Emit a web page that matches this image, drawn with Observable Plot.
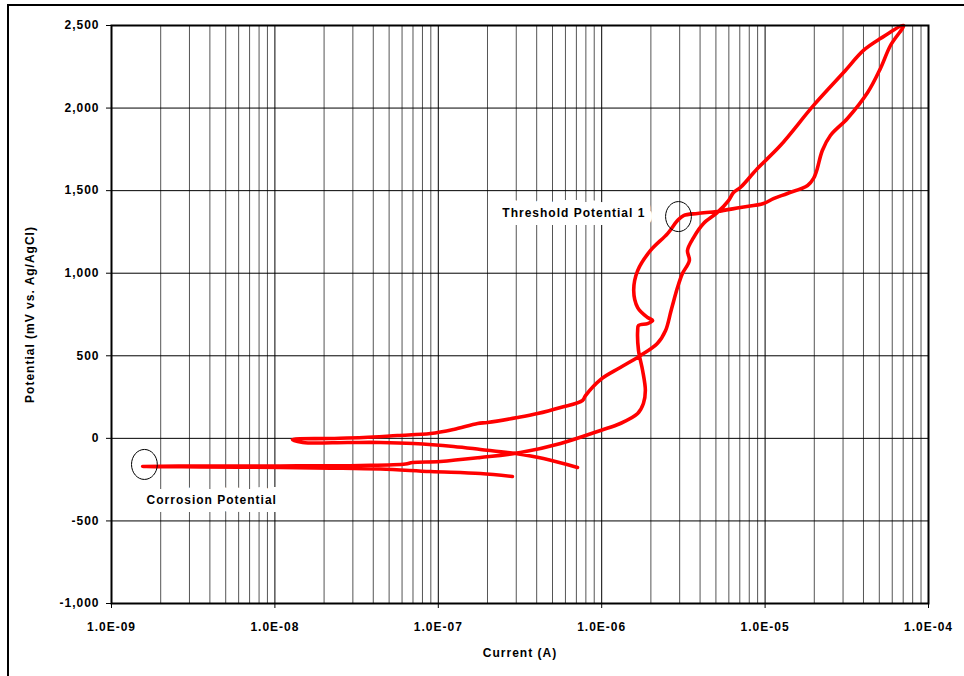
<!DOCTYPE html>
<html>
<head>
<meta charset="utf-8">
<script src="https://cdn.jsdelivr.net/npm/d3@7"></script>
<script src="https://cdn.jsdelivr.net/npm/@observablehq/plot@0.6"></script>
<style>
  html, body { margin: 0; padding: 0; background: #fff; overflow: hidden; }
  #wrap { position: relative; width: 964px; height: 676px; }
  #border { position: absolute; left: 7px; top: 4px; width: 2000px; height: 2000px;
            border-left: 2px solid #000; border-top: 2px solid #000; pointer-events: none; }
</style>
</head>
<body>
<div id="wrap"><div id="chart"></div><div id="border"></div></div>
<script>
// ---- axis ticks ----
const decades = [1e-9, 1e-8, 1e-7, 1e-6, 1e-5, 1e-4];
const minorMultipliers = [2, 3, 4, 5, 6, 7, 8, 9];
const yTicks = [-1000, -500, 0, 500, 1000, 1500, 2000, 2500];

// ---- polarization scan (single continuous path) ----
const currentA = [
  2.84e-7, 1.81e-7, 8.96e-8, 4.43e-8, 2.19e-8, 1.08e-8, 3.5e-9, 1.55e-9,
  3.5e-9, 1.08e-8, 3.34e-8, 6.3e-8, 6.95e-8, 1.03e-7, 1.81e-7, 3.18e-7, 5.6e-7, 9.84e-7,
  1.30e-6, 1.66e-6, 1.80e-6, 1.85e-6, 1.78e-6, 1.68e-6, 1.66e-6, 1.68e-6, 1.91e-6, 2.05e-6,
  1.91e-6, 1.66e-6, 1.57e-6, 1.66e-6, 1.99e-6, 2.53e-6, 2.91e-6, 3.17e-6, 3.86e-6, 5.11e-6,
  7.06e-6, 9.77e-6, 1.125e-5, 1.37e-5, 1.82e-5, 1.98e-5, 2.07e-5, 2.24e-5, 2.51e-5, 3.19e-5,
  4.24e-5, 5.08e-5, 5.85e-5, 7.03e-5,
  5.08e-5, 4.0e-5, 3.02e-5, 1.98e-5, 1.24e-5, 8.98e-6, 7.06e-6, 6.41e-6, 5.97e-6, 5.11e-6,
  4.2e-6, 3.65e-6, 3.35e-6, 3.44e-6, 3.12e-6, 2.91e-6, 2.71e-6, 2.64e-6, 2.46e-6, 2.19e-6,
  1.73e-6, 1.30e-6, 9.84e-7, 7.96e-7, 7.63e-7, 5.6e-7, 4.05e-7, 3.05e-7, 2.0e-7, 1.74e-7,
  1.24e-7, 8.96e-8, 5.62e-8, 3.49e-8, 2.19e-8, 1.28e-8,
  1.48e-8, 2.78e-8, 4.43e-8, 7.05e-8, 1.24e-7, 1.81e-7, 2.97e-7, 4.40e-7, 7.11e-7
];
const potentialMV = [
  -231, -213, -201, -186, -180, -176, -173, -170,
  -167, -167, -164, -155, -146, -140, -116, -86, -31, 48,
  90, 150, 211, 290, 411, 532, 653, 683, 695, 714,
  732, 792, 895, 1016, 1138, 1240, 1319, 1349, 1362, 1374,
  1398, 1422, 1452, 1483, 1531, 1574, 1622, 1743, 1834, 1937,
  2094, 2240, 2379, 2500,
  2421, 2349, 2215, 2016, 1773, 1634, 1519, 1489, 1440, 1368,
  1301, 1216, 1138, 1077, 998, 913, 804, 762, 653, 574,
  502, 429, 356, 259, 229, 187, 150, 126, 96, 90,
  54, 29, 17, 5, -1, -7,
  -25, -25, -25, -31, -49, -67, -92, -122, -176
];

// ---- annotations ----
const thresholdLabel = "Threshold Potential 1";
const thresholdLabelAt = [1.85e-6, 1362];   // [current, potential] of label's right end
const corrosionLabel = "Corrosion Potential";
const corrosionLabelAt = [1.64e-9, -376];   // [current, potential] of label's left end
const markerCurrent = [2.95e-6, 1.59e-9];
const markerPotential = [1343, -158];

// ---- build tables ----
const scan = currentA.map((c, i) => ({current: c, potential: potentialMV[i]}));
const minorTicks = decades.slice(0, -1).flatMap(d => minorMultipliers.map(m => d * m));
const markers = markerCurrent.map((c, i) => ({current: c, potential: markerPotential[i]}));

const fmtE = d => {
  const e = Math.round(Math.log10(d));
  return "1.0E" + (e < 0 ? "-" : "+") + String(Math.abs(e)).padStart(2, "0");
};
const fmtY = d => d3.format(",")(d).replace("\u2212", "-");

const k = 0.5522847498;
const ellipse = {
  draw(ctx, size) {
    const r = Math.sqrt(size / Math.PI);
    const rx = r * 0.86, ry = r;
    ctx.moveTo(rx, 0);
    ctx.bezierCurveTo(rx, k * ry, k * rx, ry, 0, ry);
    ctx.bezierCurveTo(-k * rx, ry, -rx, k * ry, -rx, 0);
    ctx.bezierCurveTo(-rx, -k * ry, -k * rx, -ry, 0, -ry);
    ctx.bezierCurveTo(k * rx, -ry, rx, -k * ry, rx, 0);
    ctx.closePath();
  }
};

const labelStyle = {fill: "#000", stroke: "#fff", strokeWidth: 16, strokeLinejoin: "round",
  fontSize: 12, fontWeight: "bold"};

const chart = Plot.plot({
  width: 964,
  height: 676,
  marginLeft: 111,
  marginRight: 36,
  marginTop: 25,
  marginBottom: 73,
  style: {
    fontFamily: "'Liberation Sans', Arial, sans-serif",
    fontSize: "12px",
    fontWeight: "bold",
    letterSpacing: "1px",
    color: "#000",
    background: "#fff"
  },
  x: {
    type: "log",
    domain: [1e-9, 1e-4],
    ticks: decades,
    tickFormat: fmtE,
    tickSize: 5,
    tickPadding: 14,
    label: "Current (A)",
    labelAnchor: "center",
    labelArrow: "none",
    labelOffset: 53
  },
  y: {
    domain: [-1000, 2500],
    ticks: yTicks,
    tickFormat: fmtY,
    tickSize: 5,
    tickPadding: 7,
    label: "Potential (mV vs. Ag/AgCl)",
    labelAnchor: "center",
    labelArrow: "none",
    labelOffset: 86
  },
  marks: [
    Plot.ruleX(minorTicks, {x: d => d, stroke: "#555", strokeWidth: 1}),
    Plot.ruleX(decades, {x: d => d, stroke: "#000", strokeWidth: 1}),
    Plot.ruleY(yTicks, {y: d => d, stroke: "#000", strokeWidth: 1}),
    Plot.text([thresholdLabel], {x: () => thresholdLabelAt[0], y: () => thresholdLabelAt[1],
      text: d => d, textAnchor: "end", ...labelStyle}),
    Plot.text([corrosionLabel], {x: () => corrosionLabelAt[0], y: () => corrosionLabelAt[1],
      text: d => d, textAnchor: "start", ...labelStyle}),
    Plot.line(scan, {x: "current", y: "potential", stroke: "#ff0000", strokeWidth: 3.6,
      curve: "catmull-rom", strokeLinejoin: "round", strokeLinecap: "round"}),
    Plot.frame({stroke: "#000", strokeWidth: 2}),
    Plot.dot(markers, {x: "current", y: "potential", r: 15, symbol: ellipse,
      stroke: "#000", strokeWidth: 1, fill: "none"})
  ]
});
document.getElementById("chart").appendChild(chart);
</script>
</body>
</html>
